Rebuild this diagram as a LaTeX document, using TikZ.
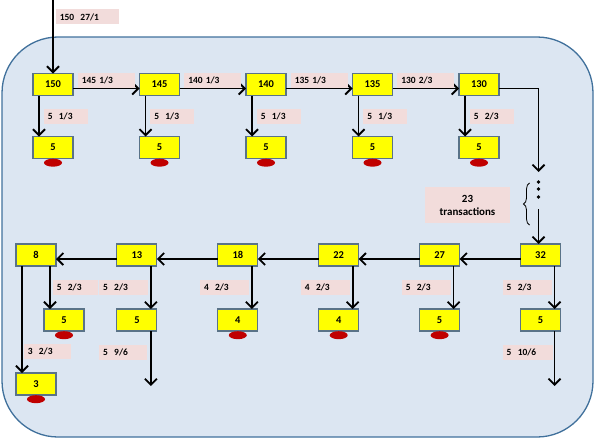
\documentclass[tikz,border=0pt]{standalone}
\usepackage{fontspec}
\setmainfont{Carlito}
\usetikzlibrary{positioning, calc, arrows.meta, shapes.geometric, decorations.pathreplacing}
\definecolor{txFrame}{HTML}{41719C}
\definecolor{txFrameFill}{HTML}{DCE6F2}
\definecolor{txBox}{HTML}{FFFF00}
\definecolor{txBoxLine}{HTML}{5A7388}
\definecolor{txLabel}{HTML}{F2DCDB}
\definecolor{txMark}{HTML}{C00000}
\tikzset{
    txBase/.style={
        rectangle,
        draw=txBoxLine,
        fill=txBox,
        line width=1.1pt,
        minimum width=40bp,
        minimum height=22bp,
        inner sep=0pt,
        outer sep=0pt,
        font=\fontsize{10.5}{12}\selectfont\bfseries
    },
    txLbl/.style={
        fill=txLabel,
        text width=#1,
        align=left,
        inner xsep=4bp,
        inner ysep=0pt,
        minimum height=15bp,
        font=\fontsize{9.5}{11}\selectfont\bfseries
    },
    txLbl/.default=36bp,
    txGap/.style={
        fill=txLabel,
        minimum width=85bp,
        minimum height=36bp,
        align=center,
        inner sep=0pt,
        font=\fontsize{11}{13}\selectfont\bfseries
    },
    % Spent outputs
    txSpent/.style={ellipse, fill=txMark, minimum width=18bp, minimum height=8bp, inner sep=0pt}
}

\begin{document}
\begin{tikzpicture}[
  box/.style={txBase},
  arr/.style={-{Straight Barb[length=6bp, width=12bp, line width=1.8bp]}, line width=1.6bp},
  spent/.style={txSpent}
]
\useasboundingbox (0,0) rectangle (595bp,-440bp);
\draw[txFrame, fill=txFrameFill, line width=1.3bp, rounded corners=56bp] (2bp,-37bp) rectangle (593bp,-437bp);

% top row
\node[box] (t150) at (53bp,-84.5bp) {150};
\node[box, right=66.5bp of t150] (t145) {145};
\node[box, right=66.5bp of t145] (t140) {140};
\node[box, right=66.5bp of t140] (t135) {135};
\node[box, right=66.5bp of t135] (t130) {130};

\node[box, below=41bp of t150] (s150) {5};
\node[box, below=41bp of t145] (s145) {5};
\node[box, below=41bp of t140] (s140) {5};
\node[box, below=41bp of t135] (s135) {5};
\node[box, below=41bp of t130] (s130) {5};
\node[spent, below=0pt of s150] (m150) {};
\node[spent, below=0pt of s145] (m145) {};
\node[spent, below=0pt of s140] (m140) {};
\node[spent, below=0pt of s135] (m135) {};
\node[spent, below=0pt of s130] (m130) {};

\coordinate (entry) at ($(t150.north)+(0,73.5bp)$);
\draw[arr] (entry) -- (t150.north) node[pos=0.23, right=2bp, txLbl=55bp] {150~~27/1};

\draw[arr] ([yshift=-4bp]t150.east) -- ([yshift=-4bp]t145.west) node[midway, above=0pt, txLbl=49bp] {145 1/3};
\draw[arr] ([yshift=-4bp]t145.east) -- ([yshift=-4bp]t140.west) node[midway, above=0pt, txLbl=49bp] {140 1/3};
\draw[arr] ([yshift=-4bp]t140.east) -- ([yshift=-4bp]t135.west) node[midway, above=0pt, txLbl=49bp] {135 1/3};
\draw[arr] ([yshift=-4bp]t135.east) -- ([yshift=-4bp]t130.west) node[midway, above=0pt, txLbl=49bp] {130 2/3};

\draw[arr] ([xshift=-14bp]t150.south) -- ([xshift=-14bp]s150.north) node[midway, right=4bp, txLbl] {5~~1/3};
\draw[arr] ([xshift=-14bp]t145.south) -- ([xshift=-14bp]s145.north) node[midway, right=4bp, txLbl] {5~~1/3};
\draw[arr] ([xshift=-14bp]t140.south) -- ([xshift=-14bp]s140.north) node[midway, right=4bp, txLbl] {5~~1/3};
\draw[arr] ([xshift=-14bp]t135.south) -- ([xshift=-14bp]s135.north) node[midway, right=4bp, txLbl] {5~~1/3};
\draw[arr] ([xshift=-14bp]t130.south) -- ([xshift=-14bp]s130.north) node[midway, right=4bp, txLbl] {5~~2/3};

% bottom row
\node[box] (b32) at (540.5bp,-255bp) {32};
\node[box, left=60.9bp of b32] (b27) {27};
\node[box, left=60.9bp of b27] (b22) {22};
\node[box, left=60.9bp of b22] (b18) {18};
\node[box, left=60.9bp of b18] (b13) {13};
\node[box, left=60.9bp of b13] (b8) {8};

\node[box, below=43bp of b32] (s32) {5};
\node[box, below=43bp of b27] (s27) {5};
\node[box, below=43bp of b22] (s22) {4};
\node[box, below=43bp of b18] (s18) {4};
\node[box, below=43bp of b13] (s13) {5};
\node[box, below=43bp of b8, xshift=28bp] (s8) {5};
\node[box, below=107bp of b8] (s3) {3};
\node[spent, below=0pt of s27] (m27) {};
\node[spent, below=0pt of s22] (m22) {};
\node[spent, below=0pt of s18] (m18) {};
\node[spent, below=0pt of s8] (m8) {};
\node[spent, below=0pt of s3] (m3) {};

% the 23 skipped transactions
\coordinate (gapTop) at ($(b32.north)+(-2bp,72bp)$);
\coordinate (gapEnd) at ($(b32.north)+(-2bp,35bp)$);
\draw[arr, line width=1.1bp] ([yshift=-4bp]t130.east) -| (gapTop);
\fill ($(b32.north)+(-2bp,62bp)$) circle (1.8bp);
\fill ($(b32.north)+(-2bp,55bp)$) circle (1.8bp);
\fill ($(b32.north)+(-2bp,47bp)$) circle (1.8bp);
\draw[arr] (gapEnd) -- (gapEnd |- b32.north);
\draw[decorate, decoration={brace, amplitude=6bp}, line width=0.8bp] ($(b32.north)+(-11bp,19bp)$) -- ($(b32.north)+(-11bp,61bp)$);
\node[txGap] (gap) at (467.5bp,-205bp) {23\\transactions};

\draw[arr] ([yshift=-4bp]b32.west) -- ([yshift=-4bp]b27.east);
\draw[arr] ([yshift=-4bp]b27.west) -- ([yshift=-4bp]b22.east);
\draw[arr] ([yshift=-4bp]b22.west) -- ([yshift=-4bp]b18.east);
\draw[arr] ([yshift=-4bp]b18.west) -- ([yshift=-4bp]b13.east);
\draw[arr] ([yshift=-4bp]b13.west) -- ([yshift=-4bp]b8.east);

\draw[arr] ([xshift=14bp]b32.south) -- ([xshift=14bp]s32.north) node[midway, left=2bp, txLbl=41bp] {5~~2/3};
\draw[arr] ([xshift=14bp]b27.south) -- ([xshift=14bp]s27.north) node[midway, left=2bp, txLbl=41bp] {5~~2/3};
\draw[arr] ([xshift=14bp]b22.south) -- ([xshift=14bp]s22.north) node[midway, left=2bp, txLbl=41bp] {4~~2/3};
\draw[arr] ([xshift=14bp]b18.south) -- ([xshift=14bp]s18.north) node[midway, left=2bp, txLbl=41bp] {4~~2/3};
\draw[arr] ([xshift=14bp]b13.south) -- ([xshift=14bp]s13.north) node[midway, left=2bp, txLbl=41bp] {5~~2/3};
\draw[arr] ([xshift=14bp]b8.south) -- ([xshift=-14bp]s8.north) node[midway, right=2bp, txLbl=37bp] {5~~2/3};
\draw[arr] ([xshift=-14bp]b8.south) -- ([xshift=-14bp]s3.north) node[pos=0.8, right=1bp, txLbl=39bp] {3~~2/3};

\coordinate (out13) at ($(s13.south)+(14bp,-55bp)$);
\coordinate (out32) at ($(s32.south)+(14bp,-55bp)$);
\draw[arr] ([xshift=14bp]s13.south) -- (out13) node[pos=0.39, left=3bp, txLbl=40bp] {5~~9/6};
\draw[arr] ([xshift=14bp]s32.south) -- (out32) node[pos=0.39, left=1bp, txLbl=42bp] {5~~10/6};
\end{tikzpicture}
\end{document}
